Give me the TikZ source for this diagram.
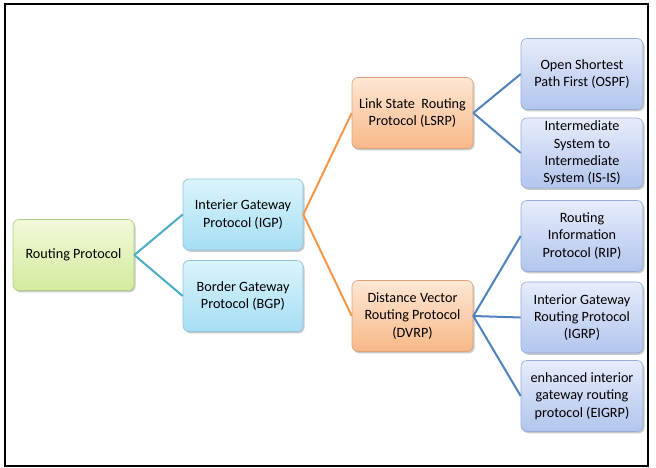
\documentclass[tikz,border=0pt]{standalone}
\usepackage{fontspec}
\setmainfont{Carlito}
\usetikzlibrary{shadows}
\definecolor{gtop}{HTML}{F1F9DA}\definecolor{gbot}{HTML}{D3EB9C}\definecolor{gbrd}{HTML}{B2CC86}
\definecolor{ctop}{HTML}{DAF4FC}\definecolor{cbot}{HTML}{A6DEF4}\definecolor{cbrd}{HTML}{8EC4DA}
\definecolor{otop}{HTML}{FDE7D4}\definecolor{obot}{HTML}{F8B888}\definecolor{obrd}{HTML}{DDA27A}
\definecolor{btop}{HTML}{E6ECFA}\definecolor{bbot}{HTML}{B2C5EE}\definecolor{bbrd}{HTML}{97ACD6}
\definecolor{lteal}{HTML}{4BACC6}\definecolor{lorange}{HTML}{F79646}\definecolor{lblue}{HTML}{4F81BD}
\tikzset{
  box/.style={rounded corners=6pt, align=center, font=\fontsize{14.2}{17.3}\selectfont,
     minimum width=121pt, minimum height=71pt, inner sep=1pt, line width=0.6pt,
     drop shadow={shadow xshift=1.5pt, shadow yshift=-1.8pt, fill=black!35, opacity=0.6}},
  gbox/.style={box, draw=gbrd, top color=gtop, bottom color=gbot},
  cbox/.style={box, draw=cbrd, top color=ctop, bottom color=cbot},
  obox/.style={box, draw=obrd, top color=otop, bottom color=obot},
  bbox/.style={box, draw=bbrd, top color=btop, bottom color=bbot},
  tealline/.style={draw=lteal, line width=2pt},
  orline/.style={draw=lorange, line width=2pt},
  blline/.style={draw=lblue, line width=2pt},
}
\begin{document}
\begin{tikzpicture}[x=1pt,y=-1pt]
\useasboundingbox (0,0) rectangle (656,468);
\draw[line width=1.2pt] (5,4) rectangle (648,466);
\node[gbox] (rp) at (73.5,255) {Routing Protocol};
\node[cbox, minimum width=120pt] (igp) at (243,214.5) {Interier Gateway\\Protocol (IGP)};
\node[cbox, minimum width=120pt] (bgp) at (243,296) {Border Gateway\\Protocol (BGP)};
\node[obox] (lsrp) at (412.5,113) {Link State~ Routing\\Protocol (LSRP)};
\node[obox] (dvrp) at (412.5,316) {Distance Vector\\Routing Protocol\\(DVRP)};
\node[bbox, minimum width=122pt] (ospf) at (582,74) {Open Shortest\\Path First (OSPF)};
\node[bbox, minimum width=122pt, minimum height=70pt] (isis) at (582,153) {Intermediate\\System to\\Intermediate\\System (IS-IS)};
\node[bbox, minimum width=122pt] (rip) at (582,236) {Routing\\Information\\Protocol (RIP)};
\node[bbox, minimum width=122pt] (igrp) at (582,317.5) {Interior Gateway\\Routing Protocol\\(IGRP)};
\node[bbox, minimum width=122pt] (eigrp) at (582,396) {enhanced interior\\gateway routing\\protocol (EIGRP)};
\path[tealline] (rp.east) -- (igp.west) (rp.east) -- (bgp.west);
\path[orline] (igp.east) -- (lsrp.west) (igp.east) -- (dvrp.west);
\path[blline] (lsrp.east) -- (ospf.west) (lsrp.east) -- (isis.west);
\path[blline] (dvrp.east) -- (rip.west) (dvrp.east) -- (igrp.west) (dvrp.east) -- (eigrp.west);
\end{tikzpicture}
\end{document}
